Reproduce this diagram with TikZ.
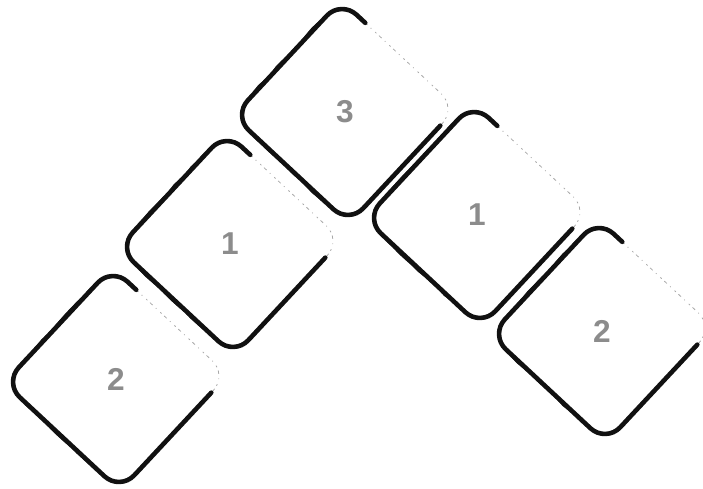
\documentclass[tikz,border=0pt]{standalone}
\usepackage{fontspec}
\setsansfont{Liberation Sans}
\usepackage{tikz}
\usetikzlibrary{decorations.pathmorphing}
\usepackage{xcolor}
\definecolor{inkblack}{HTML}{111111}
\definecolor{numgray}{HTML}{8C8C8C}
\definecolor{fadegray}{HTML}{A8A8A8}

\begin{document}
\begin{tikzpicture}[
  x=0.02cm, y=0.02cm,
  inkline/.style={draw=inkblack, line width=2.6pt, line cap=round,
    line join=round, rounded corners=12pt},
  roughline/.style={draw=inkblack, line width=0.8pt, line cap=round,
    decorate, decoration={random steps, segment length=5pt, amplitude=0.4pt}},
  fadeline/.style={draw=fadegray, line width=0.45pt, rounded corners=12pt,
    dash pattern=on 2pt off 2.5pt on 0.5pt off 3pt on 1pt off 2pt},
  numlabel/.style={font=\fontsize{18}{20}\selectfont\sffamily\bfseries,
    text=numgray, inner sep=0pt}
]
  \useasboundingbox (0,0) rectangle (703,488);

  % Tiles
  \foreach \name/\cx/\cy/\num in {topthree/345/376/3, leftone/230/244/1,
      lefttwo/116/109/2, rightone/477/273/1, righttwo/602/157/2} {
    \begin{scope}[shift={(\cx,\cy)}, rotate=47]
      \draw[fadeline] (-79,-79) rectangle (79,79);
      \draw[inkline] (79,46) -- (79,79) -- (-79,79) -- (-79,-79) -- (55,-79);
      \draw[roughline] (48,80.5) -- (-48,80.5);
      \draw[roughline] (-80.5,48) -- (-80.5,-48);
      \node[numlabel] (\name) at (0,0) {\num};
    \end{scope}
  }
\end{tikzpicture}
\end{document}
